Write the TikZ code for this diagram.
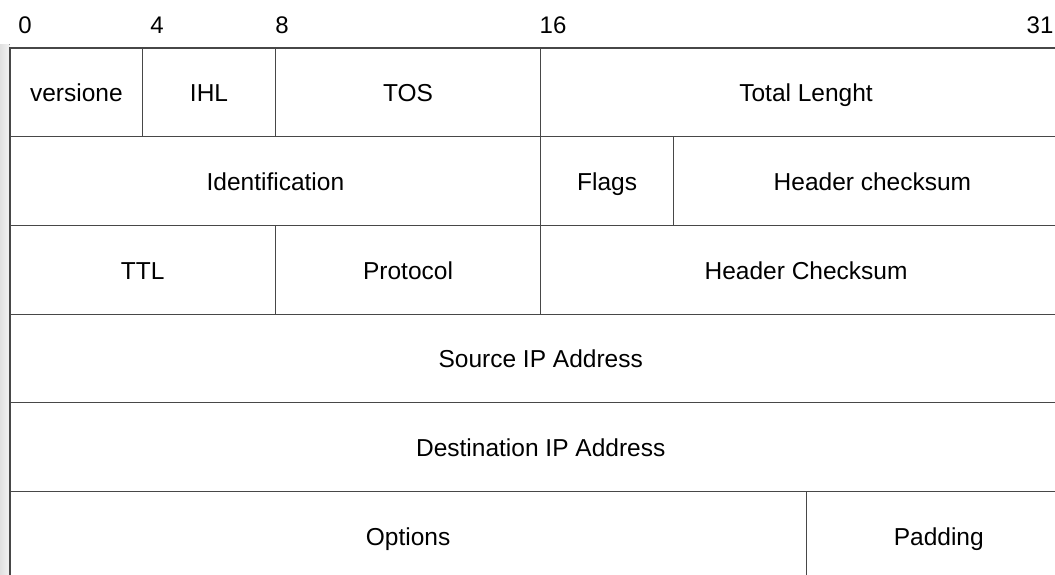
\documentclass[tikz,border=0pt]{standalone}
\usepackage{fontspec}
\setmainfont{Liberation Sans}
\usetikzlibrary{positioning}

\begin{document}
\begin{tikzpicture}[
        x=1pt,y=-1pt,
        node distance=0pt,
        field/.style={draw=black!72,line width=1.1pt,outer sep=0pt,inner sep=0pt,minimum height=88.7pt,minimum width=#1*33.17pt,text height=19pt,text depth=0pt,font=\fontsize{24.5}{29}\selectfont},
        bitlbl/.style={font=\fontsize{24}{29}\selectfont}
      ]
      \useasboundingbox[fill=white] (0,0) rectangle (1055,574);
      \fill[left color=black!12,right color=black!5] (0,44) rectangle (9.5,574);

      % bit numbers
      \foreach \b/\px in {0/25,4/157,8/282,16/553,31/1040}
        \node[bitlbl] (bit\b) at (\px,25) {\b};

      % row 1
      \node[field=4,anchor=north west] (ver) at (10,48) {versione};
      \node[field=4,right=of ver] (ihl) {IHL};
      \node[field=8,right=of ihl] (tos) {TOS};
      \node[field=16,right=of tos] (len) {Total Lenght};
      % row 2
      \node[field=16,below right=of ver.south west] (ident) {Identification};
      \node[field=4,right=of ident] (flags) {Flags};
      \node[field=12,right=of flags] (hchk) {Header checksum};
      % row 3
      \node[field=8,below right=of ident.south west] (ttl) {TTL};
      \node[field=8,right=of ttl] (proto) {Protocol};
      \node[field=16,right=of proto] (hchk2) {Header Checksum};
      % rows 4-6
      \node[field=32,below right=of ttl.south west] (src) {Source IP Address};
      \node[field=32,below=of src] (dst) {Destination IP Address};
      \node[field=24,below right=of dst.south west] (opt) {Options};
      \node[field=8,right=of opt] (pad) {Padding};
    \end{tikzpicture}
\end{document}
